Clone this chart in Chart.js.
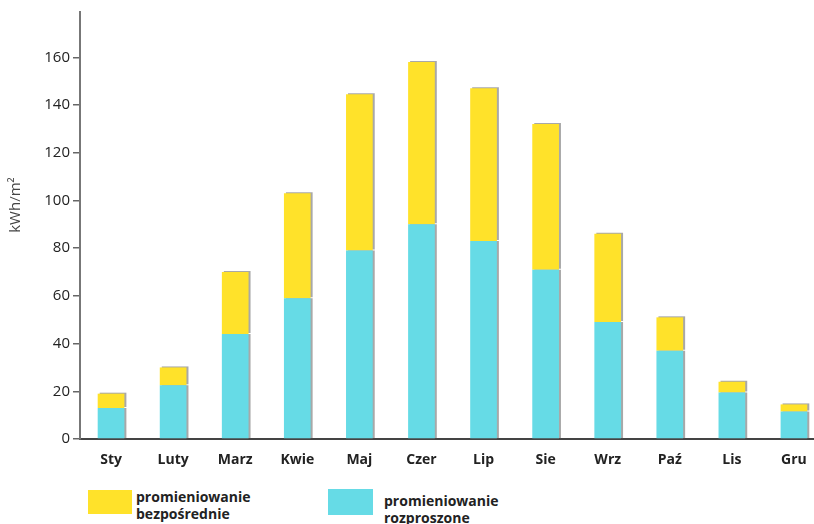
<!DOCTYPE html>
<html lang="pl">
<head>
<meta charset="utf-8">
<title>Promieniowanie słoneczne</title>
<script src="https://cdn.jsdelivr.net/npm/chart.js@4/dist/chart.umd.min.js"></script>
<style>
  html, body { margin: 0; padding: 0; background: #fff; overflow: hidden; width: 814px; height: 524px; }
  #wrap { position: relative; width: 814px; height: 524px; overflow: hidden; }
  #chart { position: absolute; left: 0; top: 0; }
  .leg { position: absolute; font-family: "Open Sans", sans-serif; font-weight: 700; font-size: 14px; color: #222; line-height: 17px; white-space: nowrap; }
  .sw { position: absolute; }
</style>
</head>
<body>
<div id="wrap">
  <canvas id="chart" width="825" height="480"></canvas>
  <div class="sw" style="left:88px;top:490px;width:44px;height:24px;background:#ffe22a;"></div>
  <div class="leg" style="left:136px;top:488px;">promieniowanie<br>bezpośrednie</div>
  <div class="sw" style="left:328px;top:489px;width:45px;height:26px;background:#66dbe6;"></div>
  <div class="leg" style="left:384px;top:492px;">promieniowanie<br>rozproszone</div>
</div>
<script>
// Miesięczne nasłonecznienie, kWh/m²
const months = ['Sty', 'Luty', 'Marz', 'Kwie', 'Maj', 'Czer', 'Lip', 'Sie', 'Wrz', 'Paź', 'Lis', 'Gru'];
const diffuse = [13, 22.5, 44, 59, 79, 90, 83, 71, 49, 37, 19.5, 11.5];
const direct = [6, 7.5, 26, 44, 65.5, 68, 64, 61, 37, 14, 4.5, 3];
const yTicks = [0, 20, 40, 60, 80, 100, 120, 140, 160];
const yTitle = 'kWh/m²';

const YELLOW = '#ffe22a';
const CYAN = '#66dbe6';

// thin grey edge on the right of every bar, and on top of the upper segment
const barShadow = {
  id: 'barShadow',
  beforeDatasetDraw(chart, args) {
    const ctx = chart.ctx;
    ctx.save();
    ctx.shadowColor = 'rgba(110,110,110,0.6)';
    ctx.shadowBlur = 0;
    ctx.shadowOffsetX = 2;
    ctx.shadowOffsetY = args.index === 1 ? -1 : 0;
  },
  afterDatasetDraw(chart) {
    chart.ctx.restore();
  }
};

// rotated unit label left of the value axis
const axisTitle = {
  id: 'axisTitle',
  afterDraw(chart) {
    const ctx = chart.ctx;
    ctx.save();
    ctx.translate(16, 205);
    ctx.rotate(-Math.PI / 2);
    ctx.font = '15px "Open Sans", sans-serif';
    ctx.fillStyle = '#444';
    ctx.textAlign = 'center';
    ctx.textBaseline = 'middle';
    ctx.fillText(yTitle, 0, 0);
    ctx.restore();
  }
};

new Chart(document.getElementById('chart'), {
  type: 'bar',
  data: {
    labels: months,
    datasets: [
      { label: 'promieniowanie rozproszone', data: diffuse, backgroundColor: CYAN, borderWidth: 0 },
      { label: 'promieniowanie bezpośrednie', data: direct, backgroundColor: YELLOW, borderWidth: 0 }
    ]
  },
  options: {
    responsive: false,
    animation: false,
    devicePixelRatio: 1,
    categoryPercentage: 1,
    barPercentage: 0.43,
    layout: { padding: { top: 10, left: 0, right: 0, bottom: 11 } },
    plugins: { legend: { display: false }, tooltip: { enabled: false }, title: { display: false } },
    scales: {
      x: {
        stacked: true,
        grid: { display: false, drawTicks: false },
        border: { display: true, color: '#444', width: 2 },
        ticks: {
          color: '#222',
          padding: 13,
          maxRotation: 0,
          font: { family: '"Open Sans", sans-serif', weight: 'bold', size: 14 }
        },
        afterFit(scale) { scale.height = 30; }
      },
      y: {
        stacked: true,
        min: 0,
        max: 179,
        grid: { drawOnChartArea: false, drawTicks: true, tickLength: 7, color: '#666', lineWidth: 1.5 },
        border: { display: true, color: '#777', width: 2 },
        ticks: {
          stepSize: 20,
          color: '#222',
          padding: 3,
          font: { family: '"Open Sans", sans-serif', size: 15 }
        },
        afterBuildTicks(scale) {
          scale.ticks = yTicks.map(v => ({ value: v }));
        },
        afterFit(scale) { scale.width = 80; }
      }
    }
  },
  plugins: [barShadow, axisTitle]
});
</script>
</body>
</html>
